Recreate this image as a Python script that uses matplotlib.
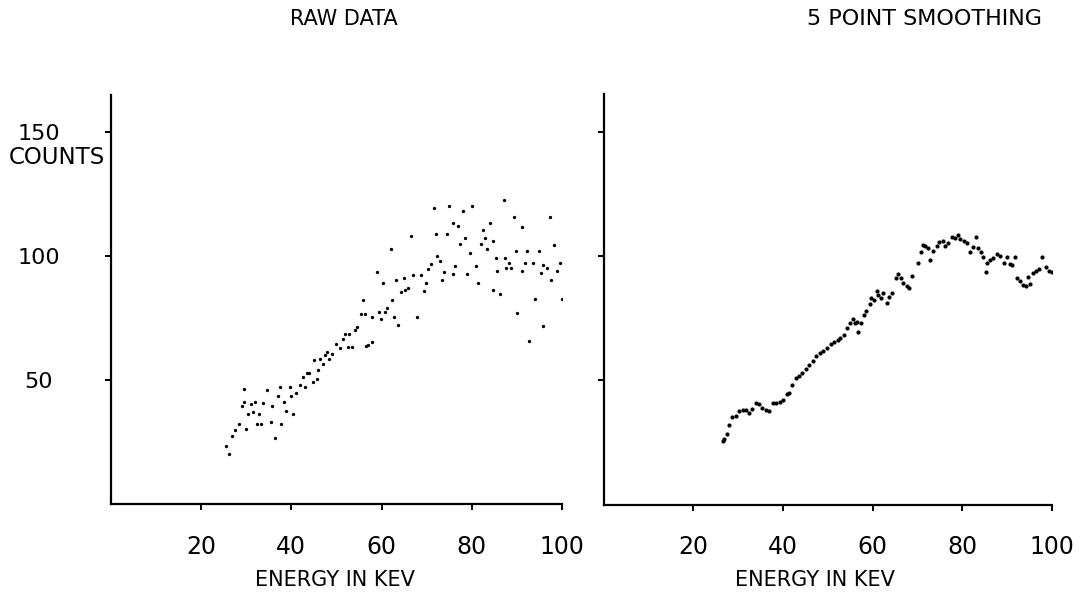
import numpy as np
import matplotlib
matplotlib.use("Agg")
import matplotlib.pyplot as plt

# raw counts (energy in keV, counts)
raw_energy = [25.5, 26.2, 26.9, 27.5, 28.4, 29.0, 29.5, 29.6, 29.9, 30.4,
              31.0, 31.4, 32.0, 32.3, 32.9, 33.3, 33.8, 34.7, 35.4, 35.8,
              36.3, 37.0, 37.5, 37.8, 38.4, 38.8, 39.7, 39.9, 40.4, 41.0,
              42.0, 42.6, 43.0, 43.5, 44.0, 44.7, 45.1, 45.6, 46.0, 46.3,
              47.1, 47.4, 47.8, 48.3, 49.1, 49.9, 50.8, 51.5, 52.0, 52.6,
              52.8, 53.4, 54.0, 54.6, 55.4, 55.9, 56.3, 56.5, 56.9, 57.9,
              57.9, 58.9, 59.4, 59.9, 60.4, 60.8, 61.3, 62.1, 62.3, 62.8,
              63.3, 63.7, 64.4, 65.0, 65.3, 65.8, 66.5, 67.0, 67.8, 68.7,
              69.3, 69.8, 70.4, 70.9, 71.6, 72.0, 72.4, 73.0, 73.3, 73.8,
              74.6, 75.0, 75.8, 75.9, 76.2, 77.0, 77.5, 78.1, 78.5, 78.9,
              79.5, 80.1, 80.9, 81.3, 82.0, 82.4, 82.9, 83.4, 84.0, 84.6,
              84.8, 85.4, 85.7, 86.3, 87.1, 87.4, 87.7, 88.3, 88.6, 89.4,
              89.7, 90.1, 91.1, 91.1, 91.8, 92.3, 92.6, 93.6, 94.0, 94.8,
              95.3, 95.7, 95.9, 96.6, 97.3, 97.6, 98.2, 99.0, 99.6, 100.0,
              100.8, 101.0]
raw_counts = [23.4, 20.4, 27.4, 29.8, 32.5, 39.5, 41.3, 46.4, 30.1, 36.5,
              40.3, 37.2, 41.3, 32.5, 36.5, 32.5, 40.6, 46.2, 33.2, 39.5,
              26.5, 43.5, 47.3, 32.5, 41.3, 37.5, 47.3, 43.5, 36.5, 44.9,
              48.0, 51.3, 47.3, 52.7, 53.0, 49.2, 58.3, 50.3, 54.3, 58.7,
              56.4, 60.1, 61.4, 58.7, 60.5, 64.5, 62.8, 66.8, 68.5, 63.2,
              68.5, 63.4, 70.4, 71.5, 76.6, 82.5, 76.6, 63.8, 64.1, 65.4,
              75.5, 93.8, 77.3, 74.5, 89.2, 77.6, 79.3, 102.9, 82.5, 75.5,
              90.3, 72.4, 85.4, 91.3, 86.3, 87.1, 108.3, 92.3, 75.5, 92.6,
              86.0, 89.2, 95.0, 97.0, 119.3, 109.1, 100.1, 98.0, 90.3, 93.7,
              109.1, 120.4, 113.4, 93.0, 96.1, 112.2, 105.1, 118.3, 107.4, 93.0,
              101.1, 120.4, 96.1, 89.2, 105.1, 110.5, 107.4, 103.1, 113.6, 106.2,
              86.3, 99.1, 94.1, 84.7, 122.8, 99.1, 95.2, 97.2, 95.2, 115.9,
              102.2, 76.9, 94.1, 111.8, 97.2, 102.2, 65.8, 97.2, 82.7, 102.2,
              93.3, 96.4, 71.8, 95.2, 115.9, 90.6, 104.4, 94.1, 97.2, 82.7,
              106.2, 89.5]

# 5 point smoothed counts
smooth_energy = [26.5, 26.9, 27.4, 28.0, 28.7, 29.4, 30.1, 31.0, 31.7, 32.4,
                 33.1, 33.9, 34.7, 35.2, 36.1, 36.8, 37.8, 38.5, 39.3, 39.9,
                 40.8, 41.4, 42.0, 42.9, 43.6, 44.3, 45.2, 45.8, 46.6, 47.3,
                 48.2, 49.0, 49.9, 50.6, 51.4, 52.2, 52.8, 53.6, 54.3, 54.9,
                 55.5, 56.0, 56.4, 56.8, 57.3, 58.0, 58.6, 59.4, 59.7, 60.3,
                 60.9, 61.2, 61.8, 62.4, 63.1, 63.6, 64.4, 65.3, 65.7, 66.4,
                 66.8, 67.6, 68.2, 68.8, 70.2, 70.8, 71.3, 71.7, 72.4, 72.8,
                 73.5, 74.3, 74.9, 75.6, 76.2, 76.9, 77.6, 78.3, 79.1, 79.5,
                 80.4, 81.0, 81.7, 82.3, 83.0, 83.6, 84.2, 84.7, 85.3, 85.6,
                 86.2, 86.8, 87.8, 88.5, 89.3, 89.9, 90.6, 91.2, 91.7, 92.3,
                 92.9, 93.5, 94.2, 94.7, 95.1, 95.7, 96.4, 97.2, 97.9, 98.7,
                 99.4, 100.1]
smooth_counts = [25.5, 26.4, 28.6, 32.2, 35.2, 35.8, 37.6, 38.0, 38.0, 36.7,
                 38.3, 41.0, 40.6, 39.0, 37.9, 37.6, 41.0, 41.0, 41.3, 42.3,
                 44.4, 45.0, 48.0, 51.1, 51.8, 53.1, 54.7, 56.0, 57.8, 59.8,
                 61.2, 61.7, 63.2, 64.5, 65.5, 66.3, 67.2, 68.3, 71.0, 73.2,
                 74.6, 73.2, 73.5, 69.6, 73.2, 76.2, 78.0, 80.7, 83.3, 82.4,
                 86.0, 84.3, 83.1, 85.1, 81.0, 83.7, 85.1, 91.0, 92.7, 91.0,
                 89.1, 88.0, 87.3, 91.8, 97.4, 101.5, 104.4, 103.9, 103.1, 98.5,
                 102.1, 104.2, 105.5, 106.0, 103.9, 105.2, 107.5, 107.1, 108.5, 106.8,
                 106.2, 105.2, 101.5, 103.5, 107.8, 103.1, 101.5, 99.5, 93.4, 97.4,
                 98.5, 99.2, 100.8, 100.1, 97.4, 99.5, 96.8, 96.4, 99.5, 91.0,
                 90.1, 88.3, 88.0, 91.4, 88.7, 93.2, 94.1, 95.0, 99.7, 95.8,
                 94.1, 93.4]

x_ticks = [20, 40, 60, 80, 100]
y_ticks = [50, 100, 150]

fig = plt.figure(figsize=(10.88, 5.98), dpi=100)
ax1 = fig.add_axes([0.102, 0.157, 0.4145, 0.684])
ax2 = fig.add_axes([0.555, 0.156, 0.4118, 0.686])

for ax in (ax1, ax2):
    ax.set_xlim(0, 100)
    ax.set_ylim(0, 165)
    for side in ("top", "right"):
        ax.spines[side].set_visible(False)
    for side in ("left", "bottom"):
        ax.spines[side].set_linewidth(1.6)
    ax.set_xticks(x_ticks)
    ax.set_xticklabels([str(t) for t in x_ticks], fontsize=17)
    ax.set_yticks(y_ticks)
    ax.tick_params(axis="both", direction="out", length=4, width=1.4)
    ax.tick_params(axis="x", pad=18)

ax1.set_yticklabels([str(t) for t in y_ticks], fontsize=16, ha="center")
ax1.tick_params(axis="y", pad=48)
ax2.set_yticklabels([])

ax1.plot(raw_energy, raw_counts, "o", color="black", ms=2.4, mew=0)
ax2.plot(smooth_energy, smooth_counts, "o", color="black", ms=3.0, mew=0)

fig.text(0.316, 0.968, "RAW DATA", ha="center", va="center", fontsize=15)
fig.text(0.850, 0.968, "5 POINT SMOOTHING", ha="center", va="center", fontsize=16)
fig.text(0.308, 0.030, "ENERGY IN KEV", ha="center", va="center", fontsize=15)
fig.text(0.749, 0.030, "ENERGY IN KEV", ha="center", va="center", fontsize=15)
fig.text(0.052, 1 - 158 / 598, "COUNTS", ha="center", va="center", fontsize=16.5)

fig.savefig("out.png", dpi=100)
